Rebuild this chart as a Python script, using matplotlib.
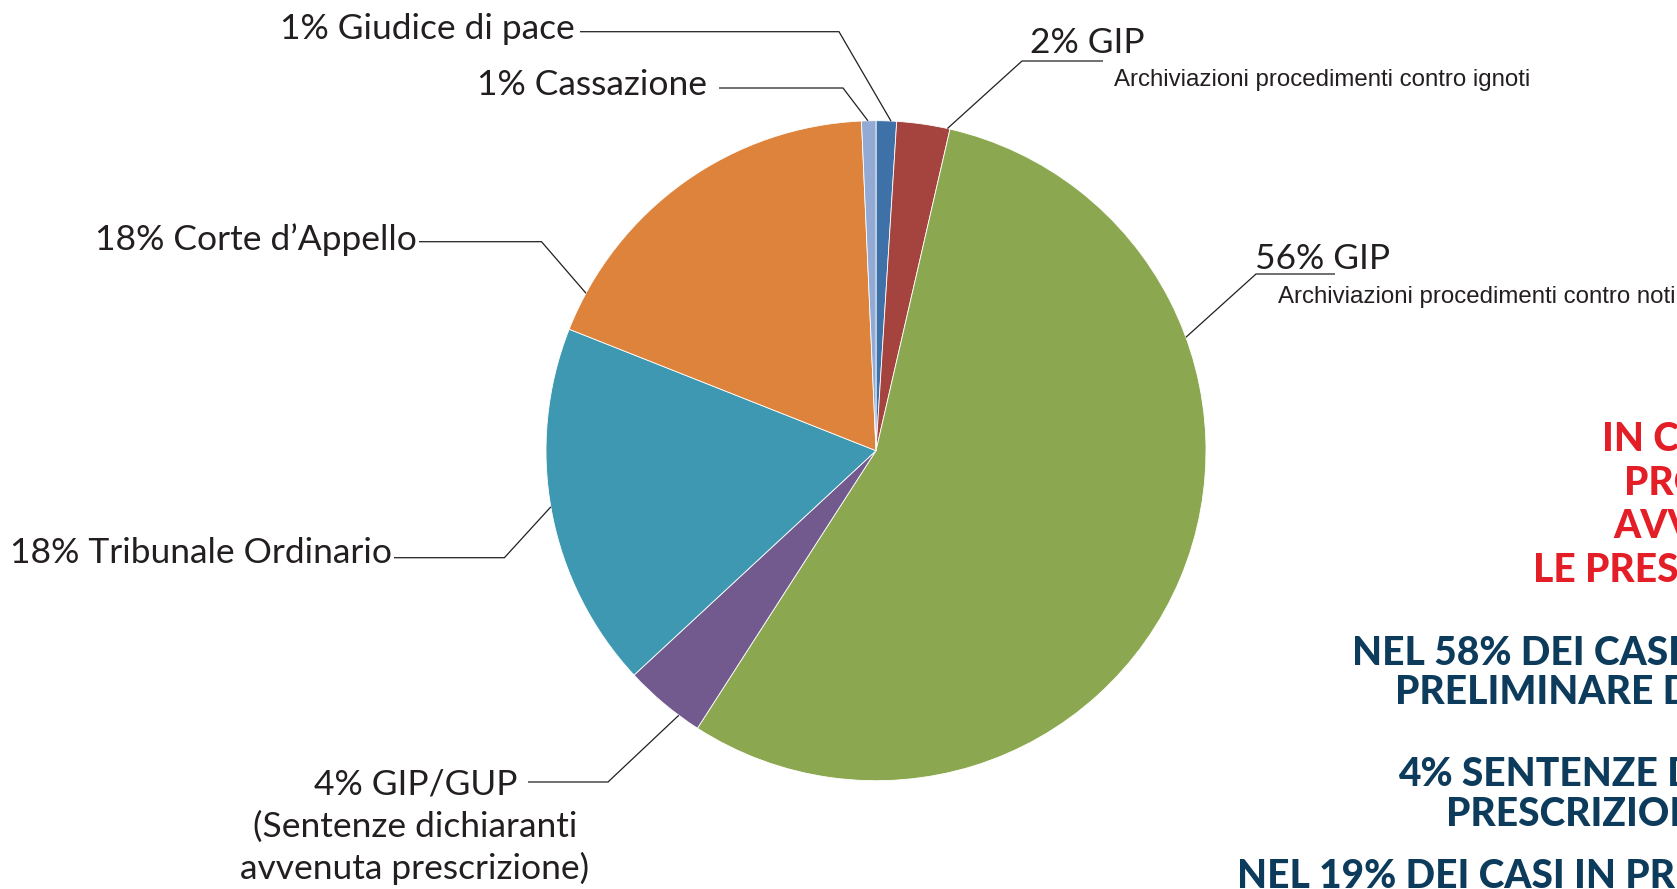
import numpy as np
import matplotlib
matplotlib.use("Agg")
import matplotlib.pyplot as plt

# ---------------- data ----------------
categories = ["Giudice di pace", "GIP (contro ignoti)", "GIP (contro noti)", "GIP/GUP",
              "Tribunale Ordinario", "Corte d'Appello", "Cassazione"]
shares = [1.0, 2.6, 55.5, 4.0, 17.9, 18.3, 0.7]
label_texts = ["1% Giudice di pace", "2% GIP", "56% GIP", "4% GIP/GUP",
               "18% Tribunale Ordinario", "18% Corte d\u2019Appello", "1% Cassazione"]
sub_texts = {1: "Archiviazioni procedimenti contro ignoti",
             2: "Archiviazioni procedimenti contro noti",
             3: "(Sentenze dichiaranti\navvenuta prescrizione)"}
colors = ["#3D71A8", "#A5443F", "#8BA74F", "#735A8E", "#3F98B1", "#DD833B", "#93AAD4"]

red_lines = ["IN CHE FASE", "PROCESSUALE", "AVVENGONO", "LE PRESCRIZIONI?"]
blue_lines = ["NEL 58% DEI CASI IN FASE", "PRELIMINARE DELLE INDAGINI",
              "4% SENTENZE DICHIARANTI", "PRESCRIZIONE",
              "NEL 19% DEI CASI IN PRIMO GRADO"]

# ---------------- layout ----------------
W, H = 1677, 889
fig = plt.figure(figsize=(W / 100, H / 100), dpi=100)
ax = fig.add_axes([0, 0, 1, 1])

def Y(py):
    return H - py

cx, cy, R = 876, Y(450.7), 330

wedges, _ = ax.pie(shares, colors=colors, startangle=90, counterclock=False,
                   center=(cx, cy), radius=R, frame=True,
                   wedgeprops=dict(edgecolor="white", linewidth=0.6))
ax.set_xlim(0, W)
ax.set_ylim(0, H)
ax.set_aspect("equal", adjustable="box")
ax.axis("off")

LC = "#231F20"
lab_font = dict(family=["Lato", "DejaVu Sans"], fontsize=25.5, color=LC)
small_font = dict(family=["Liberation Sans Narrow", "Liberation Sans", "DejaVu Sans"],
                  fontsize=17.3, color="#231F20")

def edge(angle_deg):
    a = np.deg2rad(angle_deg)
    return cx + R * np.cos(a), cy + R * np.sin(a)

def leader(angle_deg, elbow, end):
    ex, ey = edge(angle_deg)
    ax.plot([ex, elbow[0], end[0]], [ey, Y(elbow[1]), Y(end[1])],
            color=LC, lw=0.9, solid_capstyle="butt", solid_joinstyle="miter")

# Giudice di pace
ax.text(575, Y(39), label_texts[0], ha="right", va="baseline", **lab_font)
leader(87.4, (839, 31.7), (580, 31.7))
# Cassazione
ax.text(707, Y(95), label_texts[6], ha="right", va="baseline", **lab_font)
leader(91.4, (843, 88), (719, 88))
# 2% GIP
ax.text(1030, Y(53), label_texts[1], ha="left", va="baseline", **lab_font)
ax.text(1114, Y(86), sub_texts[1], ha="left", va="baseline", **small_font)
leader(77.5, (1022, 61), (1103, 61))
# 56% GIP
ax.text(1255, Y(269), label_texts[2], ha="left", va="baseline", **lab_font)
ax.text(1278, Y(303), sub_texts[2], ha="left", va="baseline", **small_font)
leader(20.1, (1256, 274), (1335, 274))
# Corte d'Appello
ax.text(417, Y(250), label_texts[5], ha="right", va="baseline", **lab_font)
leader(151.5, (541.5, 241.7), (419, 241.7))
# Tribunale Ordinario
ax.text(392, Y(563), label_texts[4], ha="right", va="baseline", **lab_font)
leader(189.8, (504.4, 557.7), (394, 557.7))
# GIP/GUP
ax.text(416, Y(794), label_texts[3], ha="center", va="baseline", **lab_font)
for i, line in enumerate(sub_texts[3].split("\n")):
    ax.text(415, Y(837 + 42 * i), line, ha="center", va="baseline", **lab_font)
leader(233.3, (608, 782), (528, 782))

# Right-hand headline text (cut by the figure edge)
head_font = dict(family=["Lato", "DejaVu Sans"], fontsize=28, fontweight="black")
red_pos = [(1602, 451), (1624, 495), (1613, 538), (1533, 582)]
for (x, yb), t in zip(red_pos, red_lines):
    ax.text(x, Y(yb), t, ha="left", va="baseline", color="#E31E26", **head_font)
blue_pos = [(1352, 665), (1395, 704), (1398, 786), (1446, 826), (1237, 888)]
for (x, yb), t in zip(blue_pos, blue_lines):
    ax.text(x, Y(yb), t, ha="left", va="baseline", color="#0D3B5C", **head_font)

fig.savefig("out.png", dpi=100, facecolor="white")
